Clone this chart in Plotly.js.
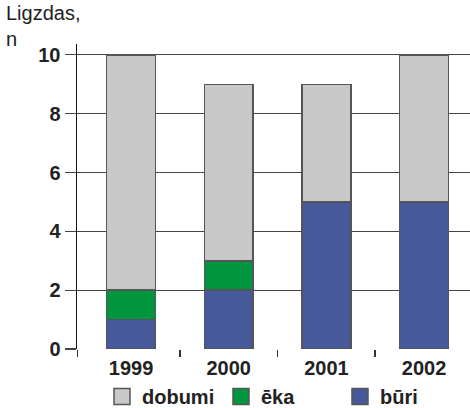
<!DOCTYPE html>
<html>
<head>
<meta charset="utf-8">
<script src="https://cdn.plot.ly/plotly-3.0.1.min.js"></script>
<style>html,body{margin:0;padding:0;background:#fff;}#chart{width:470px;height:408px;}</style>
</head>
<body>
<div id="chart"></div>
<script>
var years = [1999, 2000, 2001, 2002];
var yearLabels = ['1999', '2000', '2001', '2002'];
var buri = [1, 2, 5, 5];
var eka = [1, 1, 0, 0];
var dobumi = [8, 6, 4, 5];
var seriesNames = ['būri', 'ēka', 'dobumi'];
var yTicks = [0, 2, 4, 6, 8, 10];

var colors = {buri: '#46599b', eka: '#00953f', dobumi: '#c8c8c8'};
var FONT = 'Liberation Sans, Arial, Helvetica, sans-serif';
var lineStyle = {color: '#555', width: 1.5};

function barTrace(name, y, color) {
  return {type: 'bar', name: name, x: years, y: y, width: 0.5,
    marker: {color: color, line: lineStyle}, showlegend: false, hoverinfo: 'skip'};
}
function legendTrace(name, color) {
  return {type: 'scatter', mode: 'markers', name: name, x: [null], y: [null],
    marker: {symbol: 'square', size: 18, color: color, line: {color: '#555', width: 1.5}},
    showlegend: true};
}

var data = [
  barTrace(seriesNames[0], buri, colors.buri),
  barTrace(seriesNames[1], eka, colors.eka),
  barTrace(seriesNames[2], dobumi, colors.dobumi),
  legendTrace(seriesNames[2], colors.dobumi),
  legendTrace(seriesNames[1], colors.eka),
  legendTrace(seriesNames[0], colors.buri)
];

var layout = {
  width: 470, height: 408,
  margin: {l: 77, r: 0, t: 44, b: 59, autoexpand: false},
  barmode: 'stack',
  paper_bgcolor: '#fff', plot_bgcolor: '#fff',
  font: {family: FONT, color: '#222', size: 20},
  annotations: [{text: 'Ligzdas,<br>n', xref: 'paper', yref: 'paper', x: -0.185, xanchor: 'left',
    y: 1.145, yanchor: 'top', align: 'left', showarrow: false,
    font: {family: FONT, size: 20, color: '#222'}}],
  xaxis: {
    type: 'linear', range: [1998.447, 2002.47],
    tickmode: 'array', tickvals: years, ticktext: yearLabels,
    ticks: 'outside', ticklen: 1, tickcolor: 'rgba(0,0,0,0)',
    tickfont: {family: FONT, size: 20, color: '#222', weight: 'bold'},
    showgrid: false, zeroline: false, showline: false,
    minor: {tickmode: 'array', tickvals: [1998.45, 1999.5, 2000.5, 2001.5], ticks: 'outside', ticklen: 7, tickcolor: '#333', tickwidth: 1.5, showgrid: false}
  },
  yaxis: {
    range: [0, 10.37], tickmode: 'array', tickvals: yTicks,
    ticks: 'outside', ticklen: 11, tickcolor: '#444', tickwidth: 1.2,
    tickfont: {family: FONT, size: 20, color: '#222', weight: 'bold'},
    showgrid: true, gridcolor: '#444444', gridwidth: 1.2,
    zeroline: false, showline: true, linecolor: '#111', linewidth: 1.5
  },
  legend: {
    orientation: 'h', xref: 'container', yref: 'container', x: 0.217, xanchor: 'left', y: 0.028, yanchor: 'middle',
    entrywidth: 74, entrywidthmode: 'pixels', bgcolor: 'rgba(0,0,0,0)',
    font: {family: FONT, size: 20, color: '#222', weight: 'bold'},
    traceorder: 'normal', itemclick: false, itemdoubleclick: false
  },
  showlegend: true
};

Plotly.newPlot('chart', data, layout, {displayModeBar: false, staticPlot: true});
</script>
</body>
</html>
